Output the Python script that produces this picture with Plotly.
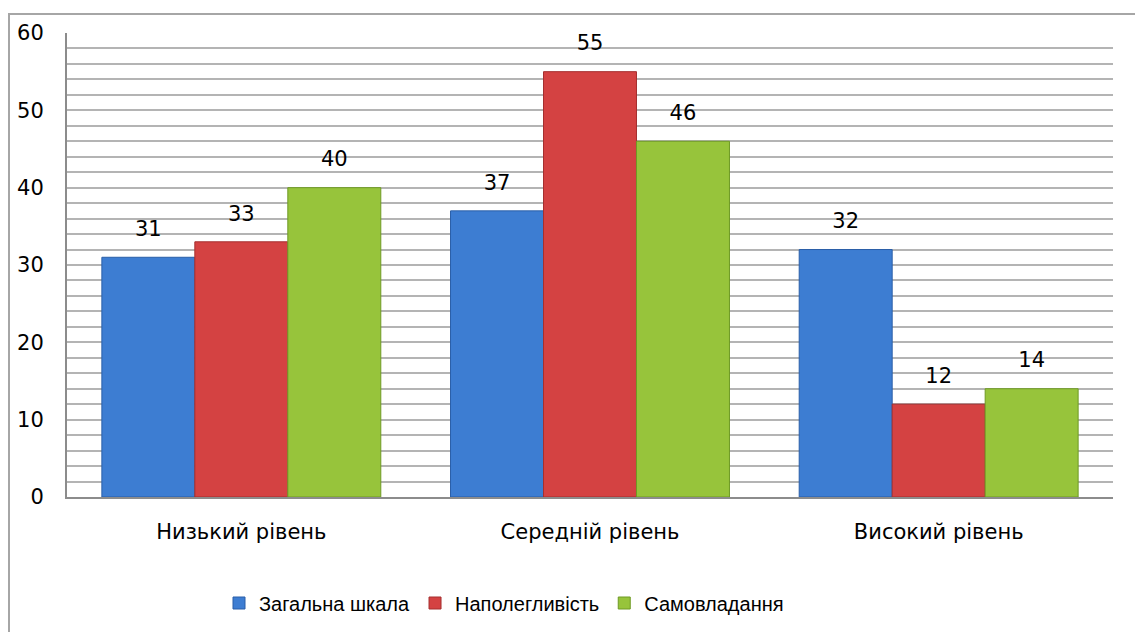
import plotly.graph_objects as go

categories = ["Низький рівень", "Середній рівень", "Високий рівень"]
series_names = ["Загальна шкала", "Наполегливість", "Самовладання"]
zagalna = [31, 37, 32]
napoleglyvist = [33, 55, 12]
samovladannia = [40, 46, 14]
colors = ["#3d7dd2", "#d44242", "#97c43b"]
line_colors = ["#2a5fa8", "#a52f2f", "#6f9a25"]
y_ticks = [0, 10, 20, 30, 40, 50, 60]

FONT = "DejaVu Sans"
LEG_FONT = "Liberation Sans"
OFF = 8  # page body margin

W, H = 1143 - OFF, 632 - OFF
# plot area in screen coords: x 67..1113, y 33..497
L, R, T, B = 67 - OFF, W - (1113 - OFF), 33 - OFF, H - (497 - OFF)
pw, ph = W - L - R, H - T - B

def px(x):
    return (x - OFF - L) / pw

def py(y):
    return (H - B - (y - OFF)) / ph

fig = go.Figure()
for i, (name, vals, c, lc) in enumerate(zip(series_names, [zagalna, napoleglyvist, samovladannia], colors, line_colors)):
    fig.add_trace(go.Bar(
        name=name, x=categories, y=vals, offsetgroup=str(i),
        marker=dict(color=c, line=dict(color=lc, width=1)),
        cliponaxis=False,
    ))
for i, vals in enumerate([zagalna, napoleglyvist, samovladannia]):
    fig.add_trace(go.Scatter(
        x=categories, y=vals, offsetgroup=str(i), mode="markers+text",
        marker=dict(size=24, color="rgba(0,0,0,0)"),
        text=[str(v) for v in vals], textposition="top center",
        textfont=dict(family=FONT, size=21, color="#000000"),
        showlegend=False, hoverinfo="skip", cliponaxis=False,
    ))

fig.update_layout(
    width=W, height=H,
    margin=dict(l=L, r=R, t=T, b=B, autoexpand=False),
    paper_bgcolor="white", plot_bgcolor="white",
    barmode="group", scattermode="group", bargap=0.2, bargroupgap=0,
    font=dict(family=FONT, color="#000000"),
    showlegend=True,
    legend=dict(orientation="h", x=px(504), xanchor="center", y=py(603), yanchor="middle",
                font=dict(family=LEG_FONT, size=20), itemwidth=30, traceorder="normal"),
    xaxis=dict(showgrid=False, showline=True, linecolor="#8c8c8c", linewidth=2, automargin=False,
               ticks="", tickfont=dict(family=FONT, size=21), ticklabelstandoff=15),
    yaxis=dict(range=[0, 60], tickvals=y_ticks, showgrid=True, gridcolor="#b4b4b4", gridwidth=1.6,
               minor=dict(dtick=2, showgrid=True, gridcolor="#b4b4b4", gridwidth=1.6),
               showline=True, linecolor="#8c8c8c", linewidth=2, zeroline=False, automargin=False,
               ticks="", tickfont=dict(family=FONT, size=21), ticklabelstandoff=17),
    shapes=[dict(type="rect", xref="paper", yref="paper",
                 x0=px(9), x1=px(1160), y0=py(660), y1=py(14),
                 line=dict(color="#a6a6a6", width=2), layer="below")],
)

fig.write_html("out.html")
